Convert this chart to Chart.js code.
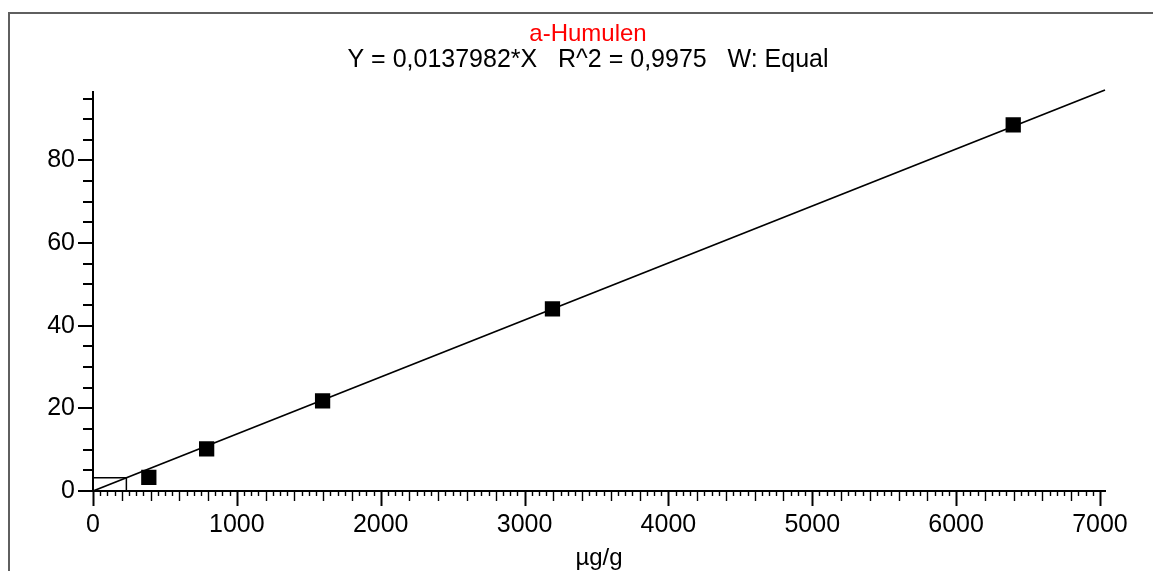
<!DOCTYPE html>
<html>
<head>
<meta charset="utf-8">
<script src="https://cdn.jsdelivr.net/npm/chart.js@4.4.1/dist/chart.umd.min.js"></script>
<style>
  html, body { margin: 0; padding: 0; background: #ffffff; }
  #wrap { width: 1153px; height: 571px; position: relative; }
</style>
</head>
<body>
<div id="wrap"><canvas id="c" width="1153" height="571"></canvas></div>
<script>
// ---- text ----
const chartTitle = 'a-Humulen';
const chartSubtitle = 'Y = 0,0137982*X   R^2 = 0,9975   W: Equal';
const xAxisTitle = 'µg/g';

// ---- calibration points ----
const calibX = [388, 790, 1596, 3194, 6397];
const calibY = [3.3, 10.2, 21.8, 44.1, 88.6];

// ---- regression line end points ----
const fitX = [0, 7035];
const fitY = [0, 97.07];

// ---- small marker box near the origin ----
const boxX = [0, 232, 232];
const boxY = [3.2, 3.2, 0];

// ---- axes ----
const xMin = 0, xMax = 7035;
const yMin = 0, yMax = 96.7;
const xTickValues = [0, 1000, 2000, 3000, 4000, 5000, 6000, 7000];
const xTickLabels = ['0', '1000', '2000', '3000', '4000', '5000', '6000', '7000'];
const yTickValues = [0, 20, 40, 60, 80];
const yTickLabels = ['0', '20', '40', '60', '80'];
const xSmallStep = 50, xMidStep = 200;
const ySmallStep = 5;

const FONT = '"Liberation Sans", Arial, sans-serif';
Chart.defaults.font.family = FONT;
Chart.defaults.color = '#000000';

const toPts = (xs, ys) => xs.map((x, i) => ({ x: x, y: ys[i] }));

const frame = {
  id: 'frame',
  beforeDraw(chart) {
    const ctx = chart.ctx;
    ctx.save();
    ctx.fillStyle = '#ffffff';
    ctx.fillRect(0, 0, chart.width, chart.height);
    ctx.strokeStyle = '#5f5f5f';
    ctx.lineWidth = 2;
    ctx.beginPath();
    ctx.moveTo(9, chart.height);
    ctx.lineTo(9, 13);
    ctx.lineTo(chart.width, 13);
    ctx.stroke();
    ctx.restore();
  }
};

const tickMarks = {
  id: 'tickMarks',
  afterDraw(chart) {
    const ctx = chart.ctx;
    const xs = chart.scales.x, ys = chart.scales.y;
    const axisY = chart.chartArea.bottom;
    const axisX = chart.chartArea.left;
    ctx.save();
    ctx.strokeStyle = '#000000';
    for (let v = xMin; v <= xMax + 1e-9; v += xSmallStep) {
      const isMajor = xTickValues.includes(v);
      const isMid = !isMajor && (v % xMidStep === 0);
      const len = isMajor ? 15 : (isMid ? 10 : 5);
      const px = Math.round(xs.getPixelForValue(v)) + 0.5;
      ctx.lineWidth = isMajor ? 2 : 1.4;
      ctx.beginPath();
      ctx.moveTo(px, axisY);
      ctx.lineTo(px, axisY + len);
      ctx.stroke();
    }
    for (let v = yMin; v <= yMax + 1e-9; v += ySmallStep) {
      const isMajor = yTickValues.includes(v);
      const len = isMajor ? 15 : 10;
      const py = Math.round(ys.getPixelForValue(v));
      ctx.lineWidth = 2;
      ctx.beginPath();
      ctx.moveTo(axisX, py);
      ctx.lineTo(axisX - len, py);
      ctx.stroke();
    }
    ctx.restore();
  }
};

new Chart(document.getElementById('c'), {
  type: 'scatter',
  data: {
    datasets: [
      {
        label: 'Standards',
        data: toPts(calibX, calibY),
        pointStyle: 'rect',
        pointRadius: 10.8,
        pointBackgroundColor: '#000000',
        pointBorderWidth: 0,
        showLine: false
      },
      {
        label: 'Fit',
        data: toPts(fitX, fitY),
        showLine: true,
        borderColor: '#000000',
        borderWidth: 1.8,
        pointRadius: 0,
        clip: false
      },
      {
        label: 'Box',
        data: toPts(boxX, boxY),
        showLine: true,
        borderColor: '#000000',
        borderWidth: 1.5,
        pointRadius: 0
      }
    ]
  },
  options: {
    responsive: false,
    devicePixelRatio: 1,
    animation: false,
    layout: { padding: { left: 23, right: 0, top: 0, bottom: 0 } },
    plugins: {
      legend: { display: false },
      tooltip: { enabled: false },
      title: {
        display: true,
        text: chartTitle,
        color: '#ff0000',
        font: { size: 24, weight: 'normal', lineHeight: 1.0 },
        padding: { top: 22, bottom: 0 }
      },
      subtitle: {
        display: true,
        text: chartSubtitle,
        color: '#000000',
        font: { size: 25, weight: 'normal', lineHeight: 1.0 },
        padding: { top: 2, bottom: 18.5 }
      }
    },
    scales: {
      x: {
        type: 'linear',
        position: 'bottom',
        min: xMin,
        max: xMax,
        afterFit: (s) => { s.height = 80; },
        afterBuildTicks: (s) => { s.ticks = xTickValues.map(v => ({ value: v })); },
        grid: { display: false, drawTicks: false },
        border: { display: true, color: '#000000', width: 2 },
        ticks: {
          autoSkip: false,
          maxRotation: 0,
          padding: 19,
          color: '#000000',
          font: { size: 25 },
          callback: (v) => { const i = xTickValues.indexOf(v); return i >= 0 ? xTickLabels[i] : ''; }
        },
        title: {
          display: true,
          text: xAxisTitle,
          color: '#000000',
          font: { size: 24 },
          padding: { top: 0, bottom: -2 }
        }
      },
      y: {
        type: 'linear',
        position: 'left',
        min: yMin,
        max: yMax,
        afterFit: (s) => { s.width = 70; },
        afterBuildTicks: (s) => { s.ticks = yTickValues.map(v => ({ value: v })); },
        grid: { display: false, drawTicks: false },
        border: { display: true, color: '#000000', width: 2 },
        ticks: {
          autoSkip: false,
          padding: 18,
          color: '#000000',
          font: { size: 25 },
          callback: (v) => { const i = yTickValues.indexOf(v); return i >= 0 ? yTickLabels[i] : ''; }
        }
      },
      rightSpace: {
        type: 'linear',
        position: 'right',
        display: true,
        afterFit: (s) => { s.width = 48; },
        grid: { display: false, drawTicks: false },
        border: { display: false },
        ticks: { display: false }
      }
    }
  },
  plugins: [frame, tickMarks]
});
</script>
</body>
</html>
